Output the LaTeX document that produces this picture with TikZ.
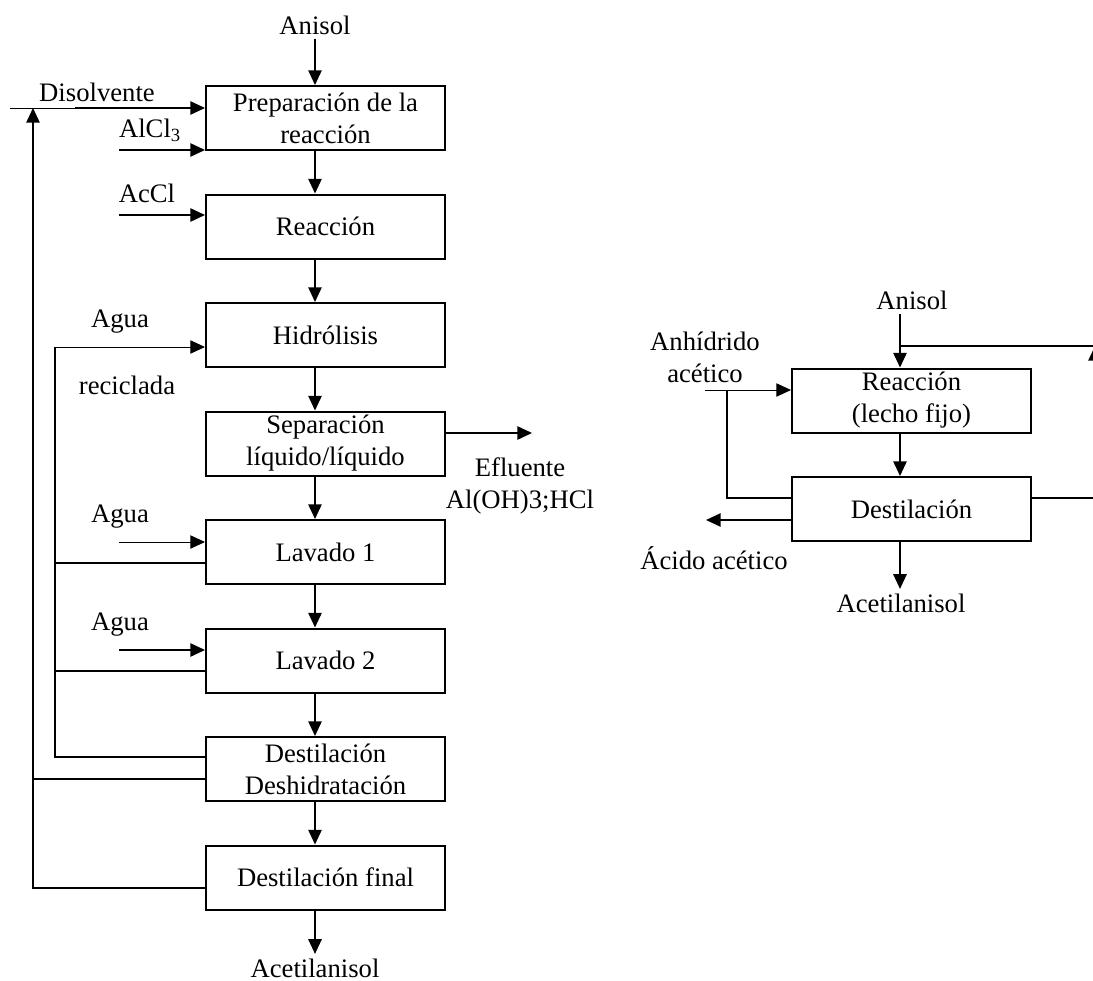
\documentclass[tikz,border=0pt]{standalone}
\usepackage{fontspec}
\setmainfont{Liberation Serif}
\usetikzlibrary{
    arrows.meta, % for the filled arrow tips
    positioning % for placing the units below one another
}

\begin{document}
\begin{tikzpicture}[
    x=0.75pt,y=-0.75pt,node distance=81.375pt,on grid,>={Triangle[length=11pt,width=10pt]},
    font=\fontsize{20}{24}\selectfont,
    unit/.style        = {draw,line width=1.5pt,minimum width=179.25pt,minimum height=48pt,align=center,inner sep=0pt},
    pipe/.style        = {line width=1.2pt},
    flow/.style        = {pipe,->},
    thin pipe/.style   = {line width=0.7pt},
    thin flow/.style   = {thin pipe,->},
    stream/.style      = {align=center}
]
\useasboundingbox (0,0) rectangle (1093,981);

% Homogeneous process with AlCl3 (left)

    \coordinate (ax) at (315,0);

    \node [unit] (prep)                   at (325.5,118) {Preparación de la\\reacción};
    \node [unit] (reac)  [below=of prep]  {Reacción};
    \node [unit] (hidr)  [below=of reac]  {Hidrólisis};
    \node [unit] (sep)   [below=of hidr]  {Separación\\líquido/líquido};
    \node [unit] (lav1)  [below=of sep]   {Lavado 1};
    \node [unit] (lav2)  [below=of lav1]  {Lavado 2};
    \node [unit] (dest1) [below=of lav2]  {Destilación\\Deshidratación};
    \node [unit] (destF) [below=of dest1] {Destilación final};

    \node [stream] (anisolA) at (315,25)  {Anisol};
    \node [stream] (disolv)  at (97,92)   {Disolvente};
    \node [stream] (alcl)    at (150,130) {AlCl\textsubscript{3}};
    \node [stream] (accl)    at (147,193) {AcCl};
    \node [stream] (agua1)   at (120,322) {Agua};
    \node [stream] (recic)   at (127,385) {reciclada};
    \node [stream] (agua2)   at (120,517) {Agua};
    \node [stream] (agua3)   at (120,625) {Agua};
    \node [stream] (eflu)    at (520,486) {Efluente\\Al(OH)3;HCl};
    \node [stream] (acetA)   at (315,968) {Acetilanisol};

    \coordinate (dsA)     at (10,108);
    \coordinate (dsB)     at (75,108);
    \coordinate (alIn)    at (119,150);
    \coordinate (acIn)    at (119,215);
    \coordinate (aguaIn1) at (55,347);
    \coordinate (aguaIn2) at (119,542);
    \coordinate (aguaIn3) at (119,650);
    \coordinate (wr1)     at (55,563);
    \coordinate (wr2)     at (55,671);
    \coordinate (wr3)     at (55,757);
    \coordinate (sr1)     at (33,779);
    \coordinate (sr2)     at (33,888);
    \coordinate (srTop)   at (33,108);
    \coordinate (efOut)   at (532,433);

    \draw [flow] (anisolA.south) -- (prep.north -| ax);
    \draw [flow] (prep.south -| ax)  -- (reac.north -| ax);
    \draw [flow] (reac.south -| ax)  -- (hidr.north -| ax);
    \draw [flow] (hidr.south -| ax)  -- (sep.north -| ax);
    \draw [flow] (sep.south -| ax)   -- (lav1.north -| ax);
    \draw [flow] (lav1.south -| ax)  -- (lav2.north -| ax);
    \draw [flow] (lav2.south -| ax)  -- (dest1.north -| ax);
    \draw [flow] (dest1.south -| ax) -- (destF.north -| ax);
    \draw [flow] (destF.south -| ax) -- (acetA.north -| ax);

    \draw [thin pipe] (dsA) -- (dsB);
    \draw [flow]      (dsB) -- (prep.west |- dsB);
    \draw [flow]      (alIn) -- (prep.west |- alIn);
    \draw [flow]      (acIn) -- (reac.west |- acIn);
    \draw [thin flow] (aguaIn1) -- (hidr.west |- aguaIn1);
    \draw [thin flow] (aguaIn2) -- (lav1.west |- aguaIn2);
    \draw [flow]      (aguaIn3) -- (lav2.west |- aguaIn3);
    \draw [flow]      (sep.east |- efOut) -- (efOut);

    % water recycle
    \draw [pipe] (lav1.west |- wr1) -- (wr1);
    \draw [pipe] (lav2.west |- wr2) -- (wr2);
    \draw [pipe] (dest1.west |- wr3) -- (wr3) -- (aguaIn1);

    % solvent recycle
    \draw [pipe] (dest1.west |- sr1) -- (sr1);
    \draw [flow] (destF.west |- sr2) -- (sr2) -- (srTop);

% Heterogeneous process on fixed bed (right)

    \coordinate (bx) at (900,0);

    \node [unit] (reacB)                  at (911.5,400.5) {Reacción\\(lecho fijo)};
    \node [unit] (destB) [below=of reacB] {Destilación};

    \node [stream] (anisolB) at (912,300) {Anisol};
    \node [stream] (anhid)   at (705,357) {Anhídrido\\acético};
    \node [stream] (acido)   at (714,558) {Ácido acético};
    \node [stream] (acetB)   at (901,603) {Acetilanisol};

    \coordinate (mix)    at (900,346);
    \coordinate (recTop) at (1095,346);
    \coordinate (recBot) at (1095,498);
    \coordinate (anIn)   at (705,390);
    \coordinate (anJ)    at (727,390);
    \coordinate (anK)    at (727,498);
    \coordinate (acOut)  at (706,520);

    \draw [flow] (anisolB.south -| bx) -- (reacB.north -| bx);
    \draw [flow] (reacB.south -| bx)   -- (destB.north -| bx);
    \draw [flow] (destB.south -| bx)   -- (acetB.north -| bx);

    \draw [thin flow] (anIn) -- (reacB.west |- anIn);
    \draw [pipe]      (anJ) -- (anK) -- (destB.west |- anK);
    \draw [flow]      (destB.west |- acOut) -- (acOut);

    % anisol recycle
    \draw [pipe] (mix) -- (recTop);
    \draw [flow] (destB.east |- recBot) -- (recBot) -- (recTop);

\end{tikzpicture}
\end{document}
